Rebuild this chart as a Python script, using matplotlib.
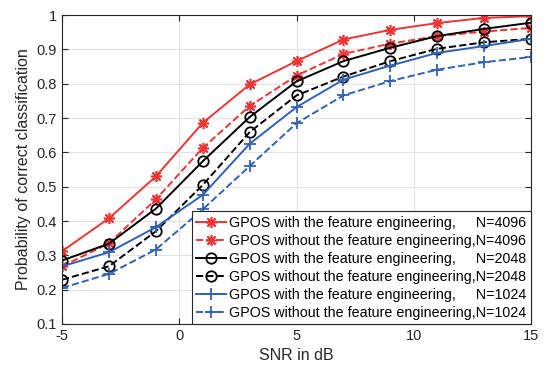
import numpy as np
import matplotlib.pyplot as plt

plt.rcParams['font.family'] = ['Liberation Sans', 'DejaVu Sans']
plt.rcParams['axes.unicode_minus'] = False

snr = [-5, -3, -1, 1, 3, 5, 7, 9, 11, 13, 15]

red_with = [0.312, 0.408, 0.530, 0.686, 0.798, 0.866, 0.929, 0.957, 0.977, 0.992, 0.997]
red_without = [0.268, 0.335, 0.463, 0.613, 0.735, 0.824, 0.887, 0.917, 0.939, 0.952, 0.963]
black_with = [0.285, 0.334, 0.436, 0.574, 0.703, 0.807, 0.866, 0.905, 0.939, 0.960, 0.978]
black_without = [0.229, 0.268, 0.370, 0.505, 0.659, 0.766, 0.821, 0.866, 0.902, 0.921, 0.931]
blue_with = [0.268, 0.309, 0.382, 0.476, 0.625, 0.732, 0.812, 0.853, 0.890, 0.910, 0.931]
blue_without = [0.205, 0.246, 0.317, 0.434, 0.560, 0.685, 0.766, 0.808, 0.841, 0.863, 0.878]

labels = ['GPOS with the feature engineering,     N=4096',
          'GPOS without the feature engineering,N=4096',
          'GPOS with the feature engineering,     N=2048',
          'GPOS without the feature engineering,N=2048',
          'GPOS with the feature engineering,     N=1024',
          'GPOS without the feature engineering,N=1024']

red = '#f03434'
blue = '#2f62b5'
ast = (8, 2, 0)

fig = plt.figure(figsize=(5.46, 3.73), dpi=100)
ax = fig.add_axes([0.1136, 0.1314, 0.859, 0.828])

ax.plot(snr, red_with, '-', color=red, marker=ast, ms=8, lw=1.4, mew=1.2, label=labels[0])
ax.plot(snr, red_without, '--', color=red, marker=ast, ms=8, lw=1.4, mew=1.2, label=labels[1])
ax.plot(snr, black_with, '-', color='k', marker='o', ms=7.5, mfc='none', lw=1.4, mew=1.3, label=labels[2])
ax.plot(snr, black_without, '--', color='k', marker='o', ms=7.5, mfc='none', lw=1.4, mew=1.3, label=labels[3])
ax.plot(snr, blue_with, '-', color=blue, marker='+', ms=9, lw=1.4, mew=1.3, label=labels[4])
ax.plot(snr, blue_without, '--', color=blue, marker='+', ms=9, lw=1.4, mew=1.3, label=labels[5])

ax.set_xlim(-5, 15)
ax.set_ylim(0.1, 1)
ax.set_xticks([-5, 0, 5, 10, 15])
ax.set_yticks(np.arange(0.1, 1.01, 0.1))
ax.set_yticklabels(['0.1', '0.2', '0.3', '0.4', '0.5', '0.6', '0.7', '0.8', '0.9', '1'])
ax.grid(True, color='#e3e3e3', lw=0.8)
ax.set_axisbelow(True)
ax.tick_params(direction='in', labelsize=10.5, colors='#262626', length=4,
               top=True, right=True)
for s in ax.spines.values():
    s.set_color('#262626')
    s.set_linewidth(0.8)
ax.set_xlabel('SNR in dB', fontsize=11.5, color='#262626')
ax.set_ylabel('Probability of correct classification', fontsize=11.5, color='#262626')

leg = ax.legend(loc='lower right', fontsize=10.3, fancybox=False, framealpha=1,
                edgecolor='#262626', borderpad=0.3, labelspacing=0.28,
                handlelength=2.1, handletextpad=0.25, borderaxespad=0.0)
leg.get_frame().set_linewidth(0.8)

fig.savefig('out.png', dpi=100)
